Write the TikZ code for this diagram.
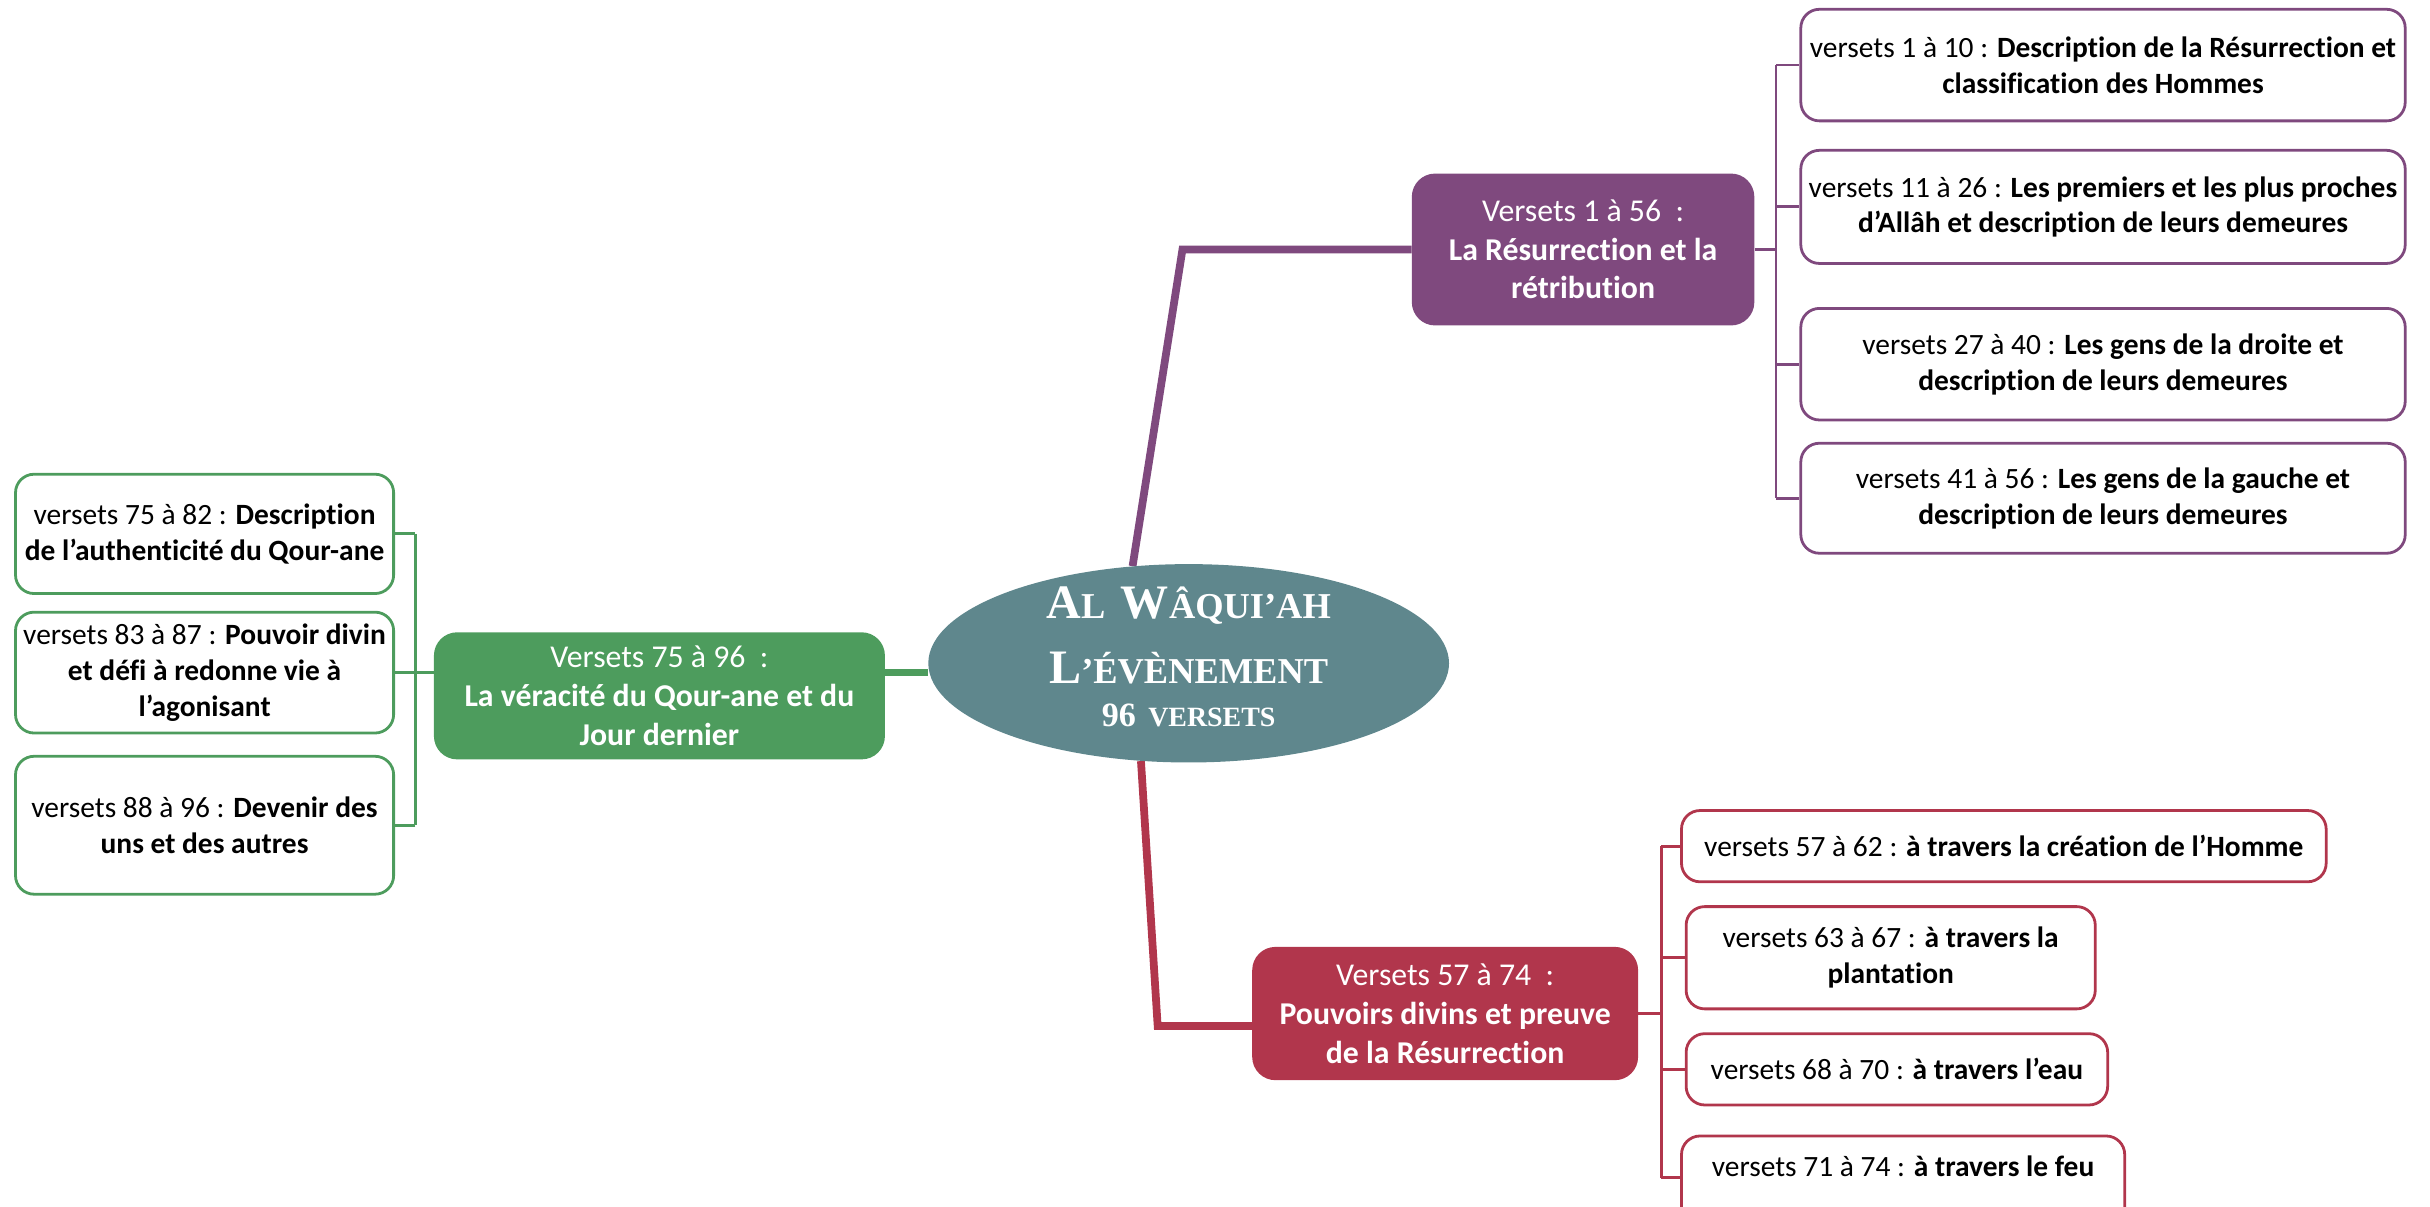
\documentclass[tikz,border=0pt]{standalone}
\usepackage{fontspec}
\setmainfont{Carlito}[Ligatures={NoCommon,NoContextual,NoRequired}]
\newfontfamily\ttlfont{Liberation Serif}
\usetikzlibrary{shapes.geometric,backgrounds}
\definecolor{tealc}{HTML}{5F878D}
\definecolor{purp}{HTML}{7F497E}
\definecolor{grn}{HTML}{4D9C5D}
\definecolor{redc}{HTML}{B1364C}
\newcommand\leaffont{\fontsize{19pt}{23pt}\selectfont}
\newcommand\hubfont{\fontsize{20.5pt}{25pt}\selectfont}
\newcommand\bigc{\ttlfont\bfseries\fontsize{31pt}{31pt}\selectfont}
\newcommand\smc{\ttlfont\bfseries\fontsize{23.5pt}{23.5pt}\selectfont}
\newcommand\bigd{\ttlfont\bfseries\fontsize{22pt}{22pt}\selectfont}
\newcommand\smd{\ttlfont\bfseries\fontsize{18pt}{18pt}\selectfont}
\newcommand\titlestack{\vbox{\offinterlineskip
 \hbox to 300pt{\hss\vrule height 26pt depth 0pt width 0pt\smash{{\bigc A}{\smc L}\hspace{10pt}{\bigc W}{\smc ÂQUI’AH}}\hss}
 \hbox to 300pt{\hss\vrule height 42pt depth 0pt width 0pt\smash{{\bigc L}{\smc ’ÉVÈNEMENT}}\hss}
 \hbox to 300pt{\hss\vrule height 28pt depth 14pt width 0pt\smash{{\bigd 96}\hspace{8pt}{\smd VERSETS}}\hss}}}
\tikzset{
 leaf/.style={draw, rounded corners=12pt, line width=1.8pt, fill=white, align=center, inner sep=0pt, font=\leaffont, text=black},
 hub/.style={rounded corners=15pt, align=center, inner sep=0pt, font=\hubfont, text=white},
 trunk/.style={line width=5pt},
 twig/.style={line width=1.8pt},
}
\begin{document}
\begin{tikzpicture}[x=1pt,y=-1pt]
\useasboundingbox (0,0) rectangle (1568,778.2);
% central node
\node[ellipse, fill=tealc, minimum width=336pt, minimum height=128pt, inner sep=0pt, text=white] (ctr) at (767,428)
 {\makebox[0pt]{\raisebox{-41pt}[0pt][0pt]{\titlestack}}};
% main branches
\node[hub, fill=purp, minimum width=221pt, minimum height=98pt] (pmain) at (1021.5,161)
 {Versets 1 à 56\ \ :\\\textbf{La Résurrection et la}\\\textbf{rétribution}};
\node[hub, fill=grn, minimum width=291pt, minimum height=82pt] (gmain) at (425.5,449)
 {Versets 75 à 96\ \ :\\\textbf{La véracité du Qour-ane et du}\\\textbf{Jour dernier}};
\node[hub, fill=redc, minimum width=249pt, minimum height=86pt] (rmain) at (932.5,654)
 {Versets 57 à 74\ \ :\\\textbf{Pouvoirs divins et preuve}\\\textbf{de la Résurrection}};
% purple leaves
\node[leaf, draw=purp, minimum width=390pt, minimum height=72pt] (p1) at (1357,42)
 {versets 1 à 10 : \textbf{Description de la Résurrection et}\\\textbf{classification des Hommes}};
\node[leaf, draw=purp, minimum width=390pt, minimum height=73pt] (p2) at (1357,133.5)
 {versets 11 à 26 : \textbf{Les premiers et les plus proches}\\\textbf{d’Allâh et description de leurs demeures}};
\node[leaf, draw=purp, minimum width=390pt, minimum height=72pt] (p3) at (1357,235)
 {versets 27 à 40 : \textbf{Les gens de la droite et}\\\textbf{description de leurs demeures}};
\node[leaf, draw=purp, minimum width=390pt, minimum height=71pt] (p4) at (1357,321.5)
 {versets 41 à 56 : \textbf{Les gens de la gauche et}\\\textbf{description de leurs demeures}};
% green leaves
\node[leaf, draw=grn, minimum width=244pt, minimum height=77pt] (g1) at (132,344.5)
 {versets 75 à 82 : \textbf{Description}\\\textbf{de l’authenticité du Qour-ane}};
\node[leaf, draw=grn, minimum width=244pt, minimum height=78pt] (g2) at (132,434)
 {versets 83 à 87 : \textbf{Pouvoir divin}\\\textbf{et défi à redonne vie à}\\\textbf{l’agonisant}};
\node[leaf, draw=grn, minimum width=244pt, minimum height=89pt] (g3) at (132,532.5)
 {versets 88 à 96 : \textbf{Devenir des}\\\textbf{uns et des autres}};
% red leaves
\node[leaf, draw=redc, minimum width=416pt, minimum height=46pt] (r1) at (1293,546)
 {versets 57 à 62 : \textbf{à travers la création de l’Homme}};
\node[leaf, draw=redc, minimum width=264pt, minimum height=66pt] (r2) at (1220,618)
 {versets 63 à 67 : \textbf{à travers la}\\\textbf{plantation}};
\node[leaf, draw=redc, minimum width=272pt, minimum height=46pt] (r3) at (1224,690)
 {versets 68 à 70 : \textbf{à travers l’eau}};
\node[leaf, draw=redc, minimum width=286pt, minimum height=66pt] (r4) at (1228,766)
 {\raisebox{7pt}[0pt][0pt]{versets 71 à 74 : \textbf{à travers le feu}}};
% junction coordinates
\coordinate (pbend) at (763,161);
\coordinate (rbend) at (747,662);
\coordinate (pb) at (1146,0);
\coordinate (rb) at (1072,0);
\coordinate (gb) at (268,0);
\coordinate (r4t) at (1072,760);
\begin{pgfonlayer}{background}
 \draw[trunk, purp] (ctr.120) -- (pbend) -- (pmain.west);
 \draw[trunk, redc] (ctr.-116) -- (rbend) -- (rmain.west |- rbend);
 \draw[trunk, grn] (gmain.east |- g2.east) -- (ctr.west |- g2.east);
 % purple bracket
 \draw[twig, purp] (pmain.east) -- (pmain.east -| pb);
 \draw[twig, purp] (pb |- p1.west) -- (pb |- p4.west);
 \foreach \n in {p1,p2,p3,p4} \draw[twig, purp] (pb |- \n.west) -- (\n.west);
 % red bracket
 \draw[twig, redc] (rmain.east) -- (rmain.east -| rb);
 \draw[twig, redc] (rb |- r1.west) -- (r4t);
 \foreach \n in {r1,r2,r3} \draw[twig, redc] (rb |- \n.west) -- (\n.west);
 \draw[twig, redc] (r4t) -- (r4.west |- r4t);
 % green bracket
 \draw[twig, grn] (g2.east) -- (g2.east -| gmain.west);
 \draw[twig, grn] (gb |- g1.east) -- (gb |- g3.east);
 \foreach \n in {g1,g2,g3} \draw[twig, grn] (gb |- \n.east) -- (\n.east);
\end{pgfonlayer}
\end{tikzpicture}
\end{document}
